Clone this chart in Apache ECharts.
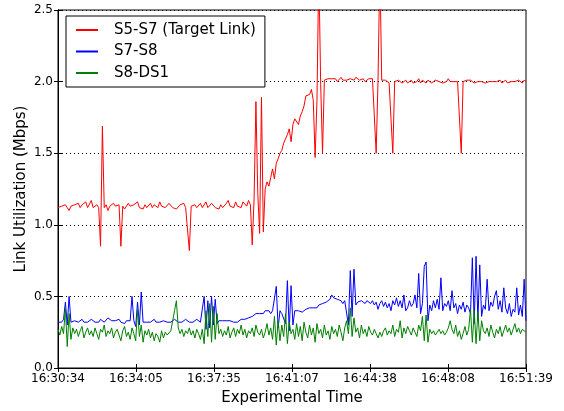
<!DOCTYPE html>
<html>
<head>
<meta charset="utf-8">
<script src="https://cdn.jsdelivr.net/npm/echarts@6/dist/echarts.min.js"></script>
<style>html,body{margin:0;padding:0;background:#fff;}#c{width:564px;height:411px;}</style>
</head>
<body>
<div id="c"></div>
<script>
// Sampling: one sample every 5 s from 16:30:34 to 16:51:39
const STEP_SEC = 5;
const TOTAL_SEC = 1265;
const xTickLabels = ['16:30:34','16:34:05','16:37:35','16:41:07','16:44:38','16:48:08','16:51:39'];
const yTicks = [0.0, 0.5, 1.0, 1.5, 2.0, 2.5];
const seriesNames = ['S5-S7 (Target Link)', 'S7-S8', 'S8-DS1'];

const s5s7 = [
1.12,1.11,1.13,1.12,1.14,1.12,1.10,1.13,1.12,1.14,
1.13,1.15,1.12,1.14,1.13,1.16,1.12,1.13,1.17,1.12,
1.13,1.14,1.12,0.85,1.69,1.12,1.14,1.10,1.13,1.12,
1.15,1.13,1.12,1.14,0.85,1.13,1.11,1.12,1.15,1.13,
1.12,1.14,1.13,1.16,1.12,1.13,1.11,1.14,1.12,1.13,
1.15,1.12,1.14,1.13,1.12,1.16,1.13,1.14,1.12,1.13,
1.15,1.14,1.12,1.13,1.11,1.12,1.14,1.13,1.15,1.12,
1.13,0.82,1.13,1.12,1.14,1.12,1.13,1.15,1.12,1.13,
1.16,1.12,1.13,1.15,1.14,1.12,1.13,1.11,1.14,1.12,
1.13,1.15,1.17,1.13,1.14,1.12,1.16,1.13,1.14,1.12,
1.16,1.15,1.13,1.17,1.14,0.86,1.18,1.86,1.22,0.94,
1.89,0.95,1.25,1.30,1.27,1.33,1.39,1.32,1.43,1.46,
1.50,1.52,1.57,1.60,1.63,1.67,1.58,1.70,1.74,1.73,
1.70,1.76,1.79,1.83,1.90,1.89,1.91,1.945,1.87,1.47,
1.87,2.80,1.98,1.50,2.01,2.00,2.02,2.01,2.02,2.01,
2.02,2.00,2.01,2.03,2.01,2.02,2.01,2.00,2.02,2.01,
2.01,2.03,2.02,2.01,2.01,2.02,2.00,2.01,2.02,2.01,
2.02,2.01,1.50,2.01,2.80,2.01,2.00,2.01,2.00,1.99,
2.00,1.50,2.00,1.99,2.01,2.00,1.99,2.00,2.01,1.99,
2.00,2.01,1.99,2.00,2.00,2.02,1.99,2.01,2.00,1.99,
2.01,2.00,1.99,2.00,2.01,2.00,2.00,2.01,1.99,2.00,
2.00,2.02,2.00,1.99,2.00,2.01,2.00,2.00,1.50,2.00,
1.99,2.01,2.00,2.01,2.00,1.99,2.00,2.00,2.01,2.00,
2.00,1.99,2.00,2.00,1.99,2.00,1.99,2.00,2.00,2.01,
1.99,2.00,2.01,1.99,2.00,2.00,2.01,2.00,2.00,2.01,
2.00,1.99,2.01,2.00
];

const s7s8 = [
0.32,0.33,0.32,0.34,0.46,0.30,0.50,0.32,0.32,0.33,
0.33,0.32,0.33,0.34,0.32,0.33,0.32,0.33,0.34,0.33,
0.32,0.33,0.32,0.34,0.33,0.32,0.33,0.35,0.35,0.33,
0.32,0.33,0.32,0.34,0.32,0.33,0.31,0.33,0.32,0.33,
0.50,0.33,0.29,0.46,0.30,0.53,0.32,0.33,0.32,0.33,
0.32,0.33,0.34,0.32,0.33,0.32,0.33,0.33,0.34,0.32,
0.33,0.32,0.33,0.34,0.33,0.32,0.33,0.32,0.33,0.34,
0.33,0.32,0.33,0.32,0.33,0.34,0.33,0.32,0.33,0.50,
0.27,0.47,0.28,0.50,0.30,0.48,0.31,0.33,0.32,0.33,
0.32,0.33,0.32,0.33,0.34,0.32,0.33,0.32,0.33,0.34,
0.33,0.34,0.33,0.35,0.34,0.36,0.37,0.38,0.37,0.38,
0.39,0.38,0.40,0.39,0.40,0.38,0.40,0.39,0.57,0.28,
0.40,0.38,0.39,0.31,0.61,0.26,0.575,0.30,0.40,0.39,
0.40,0.41,0.39,0.40,0.41,0.40,0.42,0.41,0.42,0.43,
0.42,0.44,0.43,0.45,0.44,0.46,0.45,0.48,0.51,0.49,
0.50,0.48,0.49,0.47,0.45,0.47,0.46,0.30,0.68,0.36,
0.69,0.44,0.46,0.45,0.47,0.46,0.45,0.47,0.46,0.45,
0.47,0.44,0.46,0.41,0.45,0.47,0.43,0.46,0.42,0.45,
0.40,0.47,0.44,0.49,0.43,0.47,0.42,0.51,0.40,0.42,
0.47,0.43,0.45,0.51,0.42,0.66,0.38,0.45,0.71,0.74,
0.33,0.44,0.40,0.47,0.42,0.48,0.41,0.63,0.40,0.45,
0.43,0.47,0.40,0.54,0.42,0.45,0.38,0.44,0.41,0.46,
0.39,0.44,0.42,0.38,0.77,0.31,0.78,0.33,0.72,0.36,
0.44,0.41,0.62,0.40,0.46,0.43,0.50,0.54,0.41,0.47,
0.39,0.56,0.42,0.38,0.45,0.36,0.41,0.39,0.56,0.37,
0.44,0.36,0.62,0.33
];

const s8ds1 = [
0.27,0.23,0.29,0.24,0.42,0.15,0.38,0.20,0.28,0.24,
0.27,0.22,0.26,0.29,0.21,0.25,0.28,0.23,0.26,0.22,
0.28,0.24,0.20,0.27,0.25,0.30,0.22,0.26,0.24,0.28,
0.21,0.25,0.27,0.23,0.19,0.26,0.29,0.22,0.25,0.20,
0.28,0.24,0.19,0.41,0.22,0.30,0.18,0.26,0.23,0.27,
0.21,0.25,0.19,0.24,0.22,0.18,0.26,0.21,0.25,0.23,
0.22,0.26,0.33,0.40,0.47,0.28,0.24,0.27,0.22,0.26,
0.24,0.28,0.23,0.26,0.21,0.27,0.24,0.20,0.27,0.17,
0.40,0.22,0.45,0.18,0.43,0.20,0.38,0.24,0.27,0.22,
0.26,0.23,0.29,0.21,0.25,0.28,0.22,0.27,0.24,0.30,
0.23,0.27,0.21,0.26,0.24,0.28,0.22,0.30,0.25,0.23,
0.27,0.21,0.25,0.31,0.23,0.28,0.20,0.36,0.16,0.33,
0.19,0.30,0.22,0.38,0.17,0.32,0.24,0.27,0.20,0.31,
0.22,0.29,0.19,0.32,0.25,0.21,0.30,0.23,0.28,0.18,
0.31,0.24,0.27,0.21,0.30,0.23,0.26,0.20,0.29,0.24,
0.27,0.22,0.30,0.25,0.19,0.28,0.33,0.24,0.42,0.22,
0.35,0.25,0.28,0.21,0.30,0.24,0.27,0.22,0.29,0.25,
0.23,0.27,0.24,0.21,0.25,0.22,0.26,0.28,0.23,0.26,
0.24,0.30,0.22,0.27,0.25,0.33,0.21,0.28,0.24,0.29,
0.26,0.23,0.28,0.25,0.22,0.30,0.26,0.36,0.19,0.37,
0.18,0.27,0.24,0.26,0.23,0.25,0.27,0.24,0.26,0.23,
0.25,0.28,0.33,0.27,0.24,0.30,0.22,0.26,0.20,0.24,
0.29,0.23,0.27,0.41,0.18,0.40,0.17,0.39,0.19,0.33,
0.26,0.24,0.28,0.22,0.30,0.25,0.21,0.27,0.24,0.29,
0.22,0.26,0.30,0.25,0.28,0.23,0.27,0.31,0.25,0.28,
0.24,0.27,0.26,0.25
];

const colors = ['#ff0000', '#0000ff', '#008000'];
const FONT = 'DejaVu Sans';
const xInterval = TOTAL_SEC / (xTickLabels.length - 1);

function toPairs(arr) { return arr.map((v, i) => [i * STEP_SEC, v]); }

const chart = echarts.init(document.getElementById('c'), null, {renderer: 'canvas'});

const xLabelFmt = v => {
  const k = Math.round(v / xInterval);
  return xTickLabels[k] !== undefined ? xTickLabels[k] : '';
};

chart.setOption({
  animation: false,
  backgroundColor: '#ffffff',
  textStyle: {fontFamily: FONT, color: '#000'},
  grid: {left: 58, right: 38, top: 10, bottom: 40, containLabel: false,
         show: true, borderColor: '#000', borderWidth: 1, backgroundColor: 'transparent'},
  legend: {
    show: true,
    data: seriesNames,
    left: 66, top: 16,
    orient: 'vertical',
    backgroundColor: '#fff',
    borderColor: '#000', borderWidth: 1, borderRadius: 0,
    padding: [6, 9, 6, 10],
    itemGap: 5.5,
    itemWidth: 22, itemHeight: 2,
    icon: 'rect',
    textStyle: {fontFamily: FONT, fontSize: 15, color: '#000', lineHeight: 16, padding: [0, 0, 0, 11]}
  },
  xAxis: [{
    type: 'value', min: 0, max: TOTAL_SEC, interval: xInterval,
    name: 'Experimental Time', nameLocation: 'middle', nameGap: 23,
    nameTextStyle: {fontFamily: FONT, fontSize: 15, color: '#000'},
    axisLine: {show: true, lineStyle: {color: '#000', width: 1}},
    axisTick: {show: true, inside: true, length: 4, lineStyle: {color: '#000'}},
    axisLabel: {show: true, formatter: xLabelFmt, fontFamily: FONT, fontSize: 12, color: '#000', margin: 5,
                showMinLabel: true, showMaxLabel: true},
    splitLine: {show: false}
  }, {
    type: 'value', min: 0, max: TOTAL_SEC, interval: xInterval, position: 'top',
    axisLine: {show: true, lineStyle: {color: '#000', width: 1}},
    axisTick: {show: true, inside: true, length: 4, lineStyle: {color: '#000'}},
    axisLabel: {show: false}, splitLine: {show: false}
  }],
  yAxis: [{
    type: 'value', min: yTicks[0], max: yTicks[yTicks.length - 1], interval: 0.5,
    name: 'Link Utilization (Mbps)', nameLocation: 'middle', nameGap: 29, nameMoveOverlap: false,
    nameTextStyle: {fontFamily: FONT, fontSize: 15, color: '#000'},
    axisLine: {show: true, lineStyle: {color: '#000', width: 1}},
    axisTick: {show: true, inside: true, length: 4, lineStyle: {color: '#000'}},
    axisLabel: {formatter: v => v.toFixed(1), fontFamily: FONT, fontSize: 12, color: '#000', margin: 5},
    splitLine: {show: true, lineStyle: {color: '#000', type: [1, 3], width: 1}}
  }, {
    type: 'value', min: yTicks[0], max: yTicks[yTicks.length - 1], interval: 0.5, position: 'right',
    axisLine: {show: true, lineStyle: {color: '#000', width: 1}},
    axisTick: {show: true, inside: true, length: 4, lineStyle: {color: '#000'}},
    axisLabel: {show: false}, splitLine: {show: false}
  }],
  series: [
    {name: seriesNames[0], type: 'line', data: toPairs(s5s7), showSymbol: false, symbol: 'none',
     lineStyle: {color: colors[0], width: 1}, itemStyle: {color: colors[0]}, clip: true},
    {name: seriesNames[1], type: 'line', data: toPairs(s7s8), showSymbol: false, symbol: 'none',
     lineStyle: {color: colors[1], width: 1}, itemStyle: {color: colors[1]}, clip: true},
    {name: seriesNames[2], type: 'line', data: toPairs(s8ds1), showSymbol: false, symbol: 'none',
     lineStyle: {color: colors[2], width: 1}, itemStyle: {color: colors[2]}, clip: true}
  ]
});
</script>
</body>
</html>
